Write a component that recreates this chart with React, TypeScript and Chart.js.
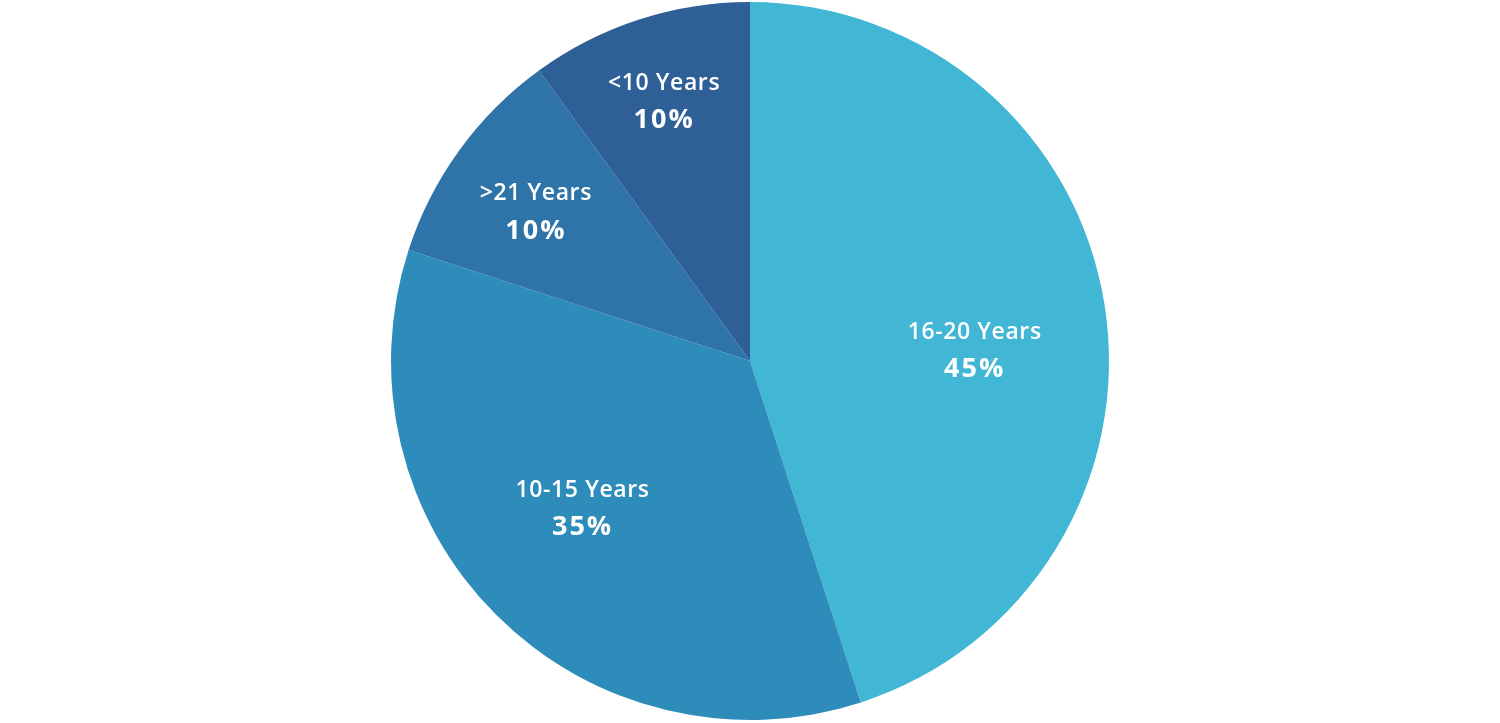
import React, { useEffect, useRef } from "react";
import { Chart, registerables } from "chart.js";

Chart.register(...registerables);

const categories = ["16-20 Years", "10-15 Years", ">21 Years", "<10 Years"];
const values = [45, 35, 10, 10];
const colors = ["#42B7D5", "#2E8CBA", "#2F74A8", "#2E5F96"];

const labelRadius = [0.627, 0.618, 0.73, 0.766];
const labelAngleShift = [5.7, 4, -0.8, -0.2];

const labelPlugin = {
  id: "sliceLabels",
  afterDatasetsDraw(chart: any) {
    const ctx = chart.ctx;
    const meta = chart.getDatasetMeta(0);
    const total = values.reduce((a, b) => a + b, 0);
    meta.data.forEach((arc: any, i: number) => {
      const { x, y, startAngle, endAngle, outerRadius } = arc.getProps(
        ["x", "y", "startAngle", "endAngle", "outerRadius"],
        true
      );
      const mid = (startAngle + endAngle) / 2 + (labelAngleShift[i] * Math.PI) / 180;
      const r = outerRadius * labelRadius[i];
      const cx = x + Math.cos(mid) * r;
      const cy = y + Math.sin(mid) * r;
      ctx.save();
      ctx.fillStyle = "#ffffff";
      ctx.textAlign = "center";
      ctx.textBaseline = "middle";
      ctx.font = "600 23px 'Open Sans'";
      (ctx as any).letterSpacing = "0.6px";
      ctx.fillText(categories[i], cx, cy - 16);
      ctx.font = "bold 27px 'Open Sans'";
      (ctx as any).letterSpacing = "2px";
      ctx.fillText(Math.round((values[i] / total) * 100) + "%", cx, cy + 21);
      ctx.restore();
    });
  },
};

export default function App() {
  const ref = useRef<HTMLCanvasElement>(null);
  useEffect(() => {
    document.body.style.margin = "0";
    const chart = new Chart(ref.current!, {
      type: "pie",
      data: {
        labels: categories,
        datasets: [
          {
            data: values,
            backgroundColor: colors,
            borderWidth: 0,
          },
        ],
      },
      options: {
        animation: false,
        responsive: false,
        maintainAspectRatio: false,
        layout: { padding: { top: 2, bottom: 3, left: 0, right: 0 } },
        plugins: {
          legend: { display: false },
          tooltip: { enabled: false },
        },
      },
      plugins: [labelPlugin],
    });
    return () => chart.destroy();
  }, []);
  return (
    <div style={{ width: 1500, height: 723, background: "#fff" }}>
      <canvas ref={ref} width={1500} height={723} style={{ display: "block" }} />
    </div>
  );
}
